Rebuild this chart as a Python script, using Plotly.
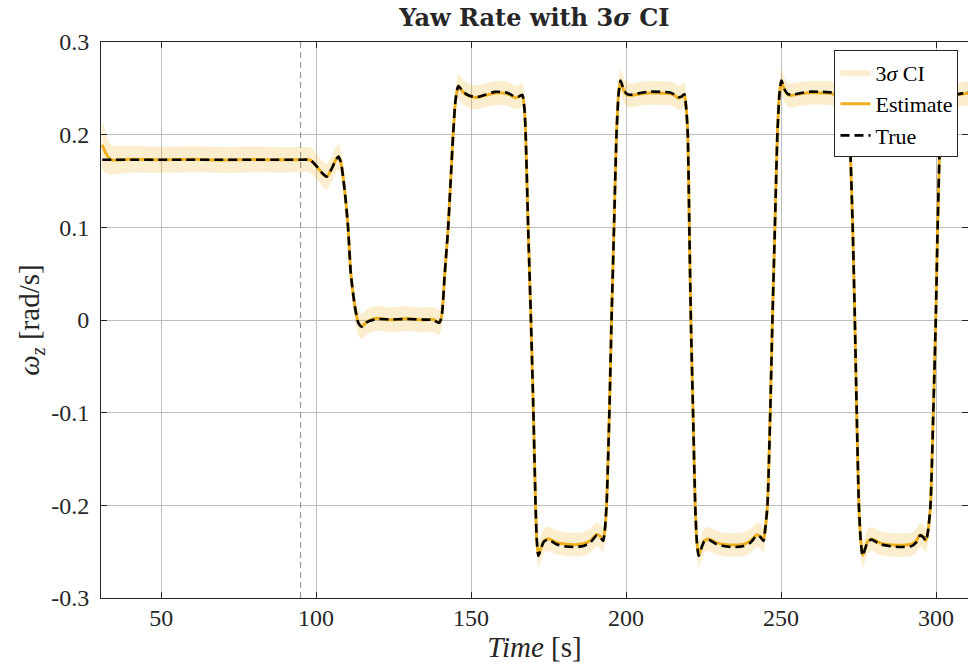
import numpy as np
import plotly.graph_objects as go

# ---------------- data ----------------
time_s = [
    31.0, 32.0, 33.0, 34.0, 35.0, 40.0, 50.0, 60.0, 70.0, 80.0, 90.0, 96.0,
    98.0, 100.0, 102.0, 103.4, 105.0, 106.3, 107.2, 108.0, 109.2, 110.3, 111.2, 112.5, 113.6, 114.7, 116.5,
    119.5, 124.0, 129.2, 134.0, 137.8, 139.7,
    140.5, 141.5, 142.6, 143.4, 144.2, 145.0, 145.9, 147.5, 149.5, 151.8, 154.5, 157.7, 161.0, 163.0, 164.1, 165.3, 166.5,
    167.2, 167.6, 168.4, 169.3, 170.1, 170.8, 171.2, 171.7, 172.5, 173.5, 174.9, 177.5, 180.8, 183.5, 186.2, 188.5, 190.5, 191.7, 192.6, 193.1,
    193.7, 194.6, 195.3, 196.1, 196.9, 197.6, 198.2, 199.2, 200.2, 201.4, 204.5, 207.7, 211.0, 214.2, 215.8, 216.8, 217.8, 218.8, 219.4,
    219.9, 220.4, 220.9, 221.6, 222.3, 222.8, 223.4, 224.2, 225.2, 226.6, 229.2, 232.5, 235.2, 238.0, 240.2, 242.2, 243.4, 244.3, 244.8,
    245.6, 246.5, 247.2, 248.0, 248.8, 249.5, 250.1, 251.1, 252.1, 253.3, 256.4, 259.6, 263.0, 266.1, 267.7, 268.7, 269.7, 270.8, 271.6,
    272.2, 273.1, 273.8, 274.4, 275.1, 275.7, 276.3, 277.1, 278.0, 279.2, 282.0, 286.2, 289.0, 292.1, 293.6, 294.8, 295.9, 296.7, 297.4,
    298.2, 299.1, 299.9, 300.5, 301.3, 302.0, 302.6, 303.6, 304.6, 305.8, 309.0, 312.0,
]

yaw_true = [
    0.1730, 0.1730, 0.1730, 0.1730, 0.1730, 0.1730, 0.1730, 0.1730, 0.1730, 0.1730, 0.1730, 0.1730,
    0.1730, 0.1665, 0.1585, 0.1547, 0.1630, 0.1725, 0.1763, 0.1700, 0.1400, 0.1000, 0.0500, 0.0145, -0.0030, -0.0071, -0.0020,
    0.0010, 0.0005, 0.0010, 0.0005, 0.0000, -0.0030,
    0.0040, 0.0500, 0.1000, 0.1500, 0.2000, 0.2380, 0.2525, 0.2460, 0.2420, 0.2405, 0.2430, 0.2462, 0.2457, 0.2430, 0.2405, 0.2410, 0.2428,
    0.2280, 0.2000, 0.1000, 0.0000, -0.1000, -0.2000, -0.2380, -0.2545, -0.2470, -0.2390, -0.2370, -0.2420, -0.2445, -0.2450, -0.2440, -0.2400, -0.2325, -0.2345, -0.2385, -0.2280,
    -0.2000, -0.1000, 0.0000, 0.1000, 0.2000, 0.2450, 0.2583, 0.2490, 0.2440, 0.2430, 0.2450, 0.2464, 0.2462, 0.2455, 0.2430, 0.2405, 0.2410, 0.2436, 0.2280,
    0.2000, 0.1000, 0.0000, -0.1000, -0.2000, -0.2380, -0.2545, -0.2470, -0.2390, -0.2370, -0.2420, -0.2445, -0.2450, -0.2440, -0.2400, -0.2325, -0.2345, -0.2385, -0.2280,
    -0.2000, -0.1000, 0.0000, 0.1000, 0.2000, 0.2450, 0.2583, 0.2490, 0.2440, 0.2430, 0.2450, 0.2464, 0.2462, 0.2455, 0.2430, 0.2405, 0.2410, 0.2436, 0.2250,
    0.1950, 0.1000, 0.0000, -0.1000, -0.2000, -0.2380, -0.2545, -0.2470, -0.2390, -0.2370, -0.2420, -0.2445, -0.2450, -0.2440, -0.2400, -0.2325, -0.2345, -0.2385, -0.2280,
    -0.2000, -0.1000, 0.0000, 0.1000, 0.2000, 0.2450, 0.2583, 0.2490, 0.2440, 0.2430, 0.2450, 0.2464,
]

yaw_est = [
    0.1890, 0.1810, 0.1755, 0.1728, 0.1725, 0.1735, 0.1728, 0.1734, 0.1727, 0.1733, 0.1728, 0.1732,
    0.1728, 0.1663, 0.1583, 0.1545, 0.1632, 0.1727, 0.1762, 0.1700, 0.1400, 0.1000, 0.0500, 0.0148, -0.0028, -0.0070, -0.0018,
    0.0018, 0.0002, 0.0015, 0.0001, 0.0006, -0.0028,
    0.0040, 0.0500, 0.1000, 0.1500, 0.2000, 0.2380, 0.2522, 0.2455, 0.2416, 0.2402, 0.2425, 0.2448, 0.2447, 0.2422, 0.2398, 0.2408, 0.2428,
    0.2280, 0.2000, 0.1000, 0.0000, -0.1000, -0.2000, -0.2380, -0.2540, -0.2465, -0.2385, -0.2360, -0.2400, -0.2420, -0.2425, -0.2415, -0.2380, -0.2315, -0.2335, -0.2380, -0.2280,
    -0.2000, -0.1000, 0.0000, 0.1000, 0.2000, 0.2450, 0.2578, 0.2485, 0.2432, 0.2422, 0.2440, 0.2450, 0.2448, 0.2445, 0.2420, 0.2395, 0.2405, 0.2434, 0.2280,
    0.2000, 0.1000, 0.0000, -0.1000, -0.2000, -0.2380, -0.2540, -0.2465, -0.2385, -0.2362, -0.2405, -0.2425, -0.2428, -0.2418, -0.2382, -0.2318, -0.2338, -0.2380, -0.2280,
    -0.2000, -0.1000, 0.0000, 0.1000, 0.2000, 0.2450, 0.2576, 0.2484, 0.2433, 0.2424, 0.2442, 0.2452, 0.2450, 0.2446, 0.2421, 0.2397, 0.2406, 0.2433, 0.2250,
    0.1950, 0.1000, 0.0000, -0.1000, -0.2000, -0.2380, -0.2541, -0.2466, -0.2386, -0.2363, -0.2408, -0.2428, -0.2430, -0.2420, -0.2384, -0.2320, -0.2339, -0.2381, -0.2280,
    -0.2000, -0.1000, 0.0000, 0.1000, 0.2000, 0.2450, 0.2578, 0.2486, 0.2436, 0.2425, 0.2442, 0.2450,
]

ci_3sigma = [
    0.0270, 0.0220, 0.0180, 0.0160, 0.0150, 0.0145, 0.0140, 0.0140, 0.0140, 0.0138, 0.0137, 0.0136,
    0.0136, 0.0136, 0.0137, 0.0138, 0.0138, 0.0138, 0.0138, 0.0137, 0.0136, 0.0135, 0.0135, 0.0135, 0.0136, 0.0136, 0.0135,
    0.0134, 0.0134, 0.0133, 0.0133, 0.0133, 0.0133,
    0.0133, 0.0133, 0.0133, 0.0133, 0.0133, 0.0132, 0.0132, 0.0131, 0.0130, 0.0130, 0.0130, 0.0129, 0.0129, 0.0129, 0.0129, 0.0129, 0.0129,
    0.0129, 0.0129, 0.0130, 0.0130, 0.0130, 0.0130, 0.0131, 0.0132, 0.0131, 0.0130, 0.0129, 0.0129, 0.0128, 0.0128, 0.0128, 0.0129, 0.0130, 0.0130, 0.0130, 0.0130,
    0.0130, 0.0130, 0.0130, 0.0130, 0.0130, 0.0131, 0.0132, 0.0131, 0.0130, 0.0129, 0.0129, 0.0128, 0.0128, 0.0128, 0.0128, 0.0129, 0.0129, 0.0129, 0.0129,
    0.0129, 0.0130, 0.0130, 0.0130, 0.0130, 0.0131, 0.0132, 0.0131, 0.0130, 0.0129, 0.0129, 0.0128, 0.0128, 0.0128, 0.0129, 0.0130, 0.0130, 0.0130, 0.0130,
    0.0130, 0.0130, 0.0130, 0.0130, 0.0130, 0.0131, 0.0132, 0.0131, 0.0130, 0.0129, 0.0129, 0.0128, 0.0128, 0.0128, 0.0128, 0.0129, 0.0129, 0.0129, 0.0129,
    0.0129, 0.0130, 0.0130, 0.0130, 0.0130, 0.0131, 0.0132, 0.0131, 0.0130, 0.0129, 0.0129, 0.0128, 0.0128, 0.0128, 0.0129, 0.0130, 0.0130, 0.0130, 0.0130,
    0.0130, 0.0130, 0.0130, 0.0130, 0.0130, 0.0131, 0.0132, 0.0131, 0.0130, 0.0129, 0.0129, 0.0128,
]

event_time = 95.0
x_ticks = [50, 100, 150, 200, 250, 300]
y_ticks = [-0.3, -0.2, -0.1, 0.0, 0.1, 0.2, 0.3]
y_tick_text = ["-0.3", "-0.2", "-0.1", "0", "0.1", "0.2", "0.3"]

assert len(time_s) == len(yaw_true) == len(yaw_est) == len(ci_3sigma)

# ---------------- figure ----------------
t = np.array(time_s)
est = np.array(yaw_est)
ci = np.array(ci_3sigma)
upper = est + ci
lower = est - ci

ORANGE = "#EDB120"
FONT = "Liberation Serif"
AX = "#262626"

fig = go.Figure()
fig.add_trace(go.Scatter(
    x=np.concatenate([t, t[::-1]]), y=np.concatenate([upper, lower[::-1]]),
    fill="toself", fillcolor="rgba(237,177,32,0.22)", line=dict(width=0, shape="spline", smoothing=0.6),
    mode="lines", name="3<i>σ</i> CI", hoverinfo="skip"))
fig.add_trace(go.Scatter(
    x=t, y=est, mode="lines", name="Estimate",
    line=dict(color=ORANGE, width=3, shape="spline", smoothing=0.6)))
fig.add_trace(go.Scatter(
    x=t, y=yaw_true, mode="lines", name="True",
    line=dict(color="black", width=2.6, dash="9px,5px", shape="spline", smoothing=0.6)))

fig.add_shape(type="line", xref="x", yref="paper", x0=event_time, x1=event_time, y0=0, y1=1,
              line=dict(color="#8c8c8c", width=1, dash="6px,4px"), layer="above")

fig.update_layout(
    width=968, height=669,
    margin=dict(l=101, r=0, t=42, b=71),
    paper_bgcolor="white", plot_bgcolor="white",
    font=dict(family=FONT, size=23, color=AX),
    title=dict(text="<b>Yaw Rate with 3<i>σ</i> CI</b>", x=0.552, xanchor="center",
               y=1 - 18 / 669, yanchor="middle", font=dict(family="DejaVu Serif", size=24, color=AX)),
    showlegend=True,
    legend=dict(x=0.846, y=0.985, xanchor="left", yanchor="top",
                bgcolor="white", bordercolor=AX, borderwidth=1,
                font=dict(family=FONT, size=22, color="black"),
                tracegroupgap=0, itemwidth=30, entrywidth=88, entrywidthmode="pixels"),
)
fig.update_xaxes(
    range=[30.6, 310.3], tickvals=x_ticks, ticks="inside", ticklen=6, tickcolor=AX,
    showline=True, linecolor=AX, linewidth=1, mirror="ticks",
    showgrid=True, gridcolor="#bdbdbd", gridwidth=1, zeroline=False,
    tickfont=dict(family=FONT, size=24, color=AX), ticklabelstandoff=-2,
    title=dict(text="<i>Time</i> [s]", font=dict(family=FONT, size=29, color=AX), standoff=6),
)
fig.update_yaxes(
    range=[-0.3, 0.3], tickvals=y_ticks, ticktext=y_tick_text, ticks="inside", ticklen=6, tickcolor=AX,
    showline=True, linecolor=AX, linewidth=1, mirror="ticks",
    showgrid=True, gridcolor="#bdbdbd", gridwidth=1, zeroline=False,
    tickfont=dict(family=FONT, size=24, color=AX), ticklabelstandoff=6,
    title=dict(text="<i>ω</i><sub><i>z</i></sub> [rad/s]", font=dict(family=FONT, size=29, color=AX), standoff=3),
)

fig.write_html("out.html")
